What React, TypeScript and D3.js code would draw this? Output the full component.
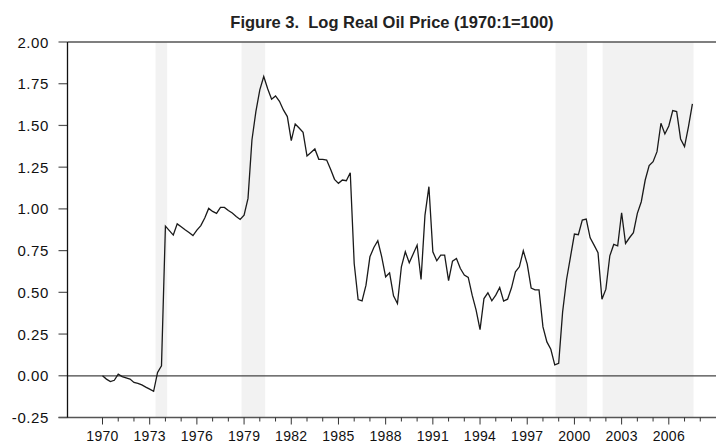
import React from "react";
import * as d3 from "d3";

const title = "Figure 3.  Log Real Oil Price (1970:1=100)";
const startYear = 1970;
const oilPrice = [
  0.0, -0.02, -0.035, -0.027,
  0.01, -0.005, -0.012, -0.02,
  -0.04, -0.045, -0.055, -0.068,
  -0.08, -0.093, 0.02, 0.06,
  0.897, 0.87, 0.843, 0.91,
  0.893, 0.875, 0.858, 0.84,
  0.873, 0.9, 0.945, 1.003,
  0.985, 0.973, 1.009, 1.009,
  0.99, 0.975, 0.955, 0.937,
  0.963, 1.063, 1.413, 1.583,
  1.713, 1.793, 1.72, 1.657,
  1.677, 1.645, 1.593, 1.553,
  1.409, 1.509, 1.485, 1.459,
  1.317, 1.338, 1.359, 1.297,
  1.297, 1.293, 1.237, 1.177,
  1.153, 1.173, 1.169, 1.217,
  0.673, 0.457, 0.449, 0.543,
  0.713, 0.769, 0.809, 0.713,
  0.593, 0.617, 0.479, 0.433,
  0.653, 0.743, 0.677, 0.73,
  0.783, 0.577, 0.963, 1.133,
  0.743, 0.689, 0.723, 0.723,
  0.57, 0.687, 0.703, 0.643,
  0.603, 0.589, 0.483, 0.393,
  0.277, 0.463, 0.497, 0.449,
  0.483, 0.529, 0.447, 0.459,
  0.527, 0.623, 0.653, 0.749,
  0.669, 0.525, 0.515, 0.515,
  0.293, 0.203, 0.159, 0.065,
  0.075, 0.383, 0.577, 0.713,
  0.849, 0.845, 0.933, 0.939,
  0.827, 0.783, 0.737, 0.459,
  0.519, 0.719, 0.787, 0.779,
  0.977, 0.793, 0.827, 0.857,
  0.973, 1.043, 1.173, 1.259,
  1.283, 1.343, 1.513, 1.449,
  1.497, 1.589, 1.583, 1.419,
  1.373, 1.493, 1.629,
];
const shadeStart = [1973.37, 1978.84, 1998.8, 2001.79];
const shadeEnd = [1974.11, 1980.34, 2000.81, 2007.57];
const yTicks = [-0.25, 0, 0.25, 0.5, 0.75, 1.0, 1.25, 1.5, 1.75, 2.0];
const xLabelYears = [1970, 1973, 1976, 1979, 1982, 1985, 1988, 1991, 1994, 1997, 2000, 2003, 2006];
const xMinorYears = d3.range(1970, 2009);

const W = 716;
const H = 443;
const left = 67.5;
const right = 716;
const top = 42;
const bottom = 417.5;
const font = "'Liberation Sans', Arial, Helvetica, sans-serif";

export default function App() {
  const x = d3.scaleLinear().domain([1967.775, 2009]).range([left, right]);
  const y = d3.scaleLinear().domain([-0.25, 2.0]).range([bottom, top]);
  const pts: [number, number][] = oilPrice.map((v, i) => [startYear + i / 4, v]);
  const line = d3
    .line<[number, number]>()
    .x((d) => x(d[0]))
    .y((d) => y(d[1]));

  return (
    <svg
      width={W}
      height={H}
      style={{ position: "absolute", left: 0, top: 0, background: "#fff" }}
      fontFamily={font}
    >
      <rect x={0} y={0} width={W} height={H} fill="#fff" />
      {shadeStart.map((s, i) => (
        <rect
          key={i}
          x={x(s)}
          y={top}
          width={x(shadeEnd[i]) - x(s)}
          height={bottom - top}
          fill="#f2f2f2"
        />
      ))}
      {/* top frame line */}
      <line x1={left} x2={right} y1={top} y2={top} stroke="#555" strokeWidth={1.3} />
      {/* zero line */}
      <line x1={left} x2={right} y1={y(0)} y2={y(0)} stroke="#444" strokeWidth={1.2} />
      {/* y ticks & labels */}
      {yTicks.map((t) => (
        <g key={t}>
          <line x1={58.5} x2={left} y1={y(t)} y2={y(t)} stroke="#555" strokeWidth={1.2} />
          <text x={49} y={y(t) + 5.5} textAnchor="end" fontSize={15} letterSpacing={0.6} fill="#111">
            {t.toFixed(2)}
          </text>
        </g>
      ))}
      {/* bottom axis */}
      <line x1={58.5} x2={right} y1={bottom} y2={bottom} stroke="#555" strokeWidth={1.3} />
      {xMinorYears.map((yr) => (
        <line
          key={yr}
          x1={x(yr)}
          x2={x(yr)}
          y1={bottom}
          y2={xLabelYears.includes(yr) ? bottom + 7 : bottom + 4}
          stroke="#333"
          strokeWidth={1}
        />
      ))}
      {xLabelYears.map((yr) => (
        <text key={yr} x={x(yr)} y={441} textAnchor="middle" fontSize={14} letterSpacing={0.3} fill="#111">
          {yr}
        </text>
      ))}
      {/* left axis */}
      <line x1={left} x2={left} y1={top} y2={bottom} stroke="#111" strokeWidth={1.3} />
      {/* series */}
      <path d={line(pts) || ""} fill="none" stroke="#1a1a1a" strokeWidth={1.3} strokeLinejoin="miter" />
      <text
        x={392}
        y={28}
        textAnchor="middle"
        fontSize={16.5}
        fontWeight="bold"
        fill="#222"
        style={{ whiteSpace: "pre" }}
      >
        {title}
      </text>
    </svg>
  );
}
